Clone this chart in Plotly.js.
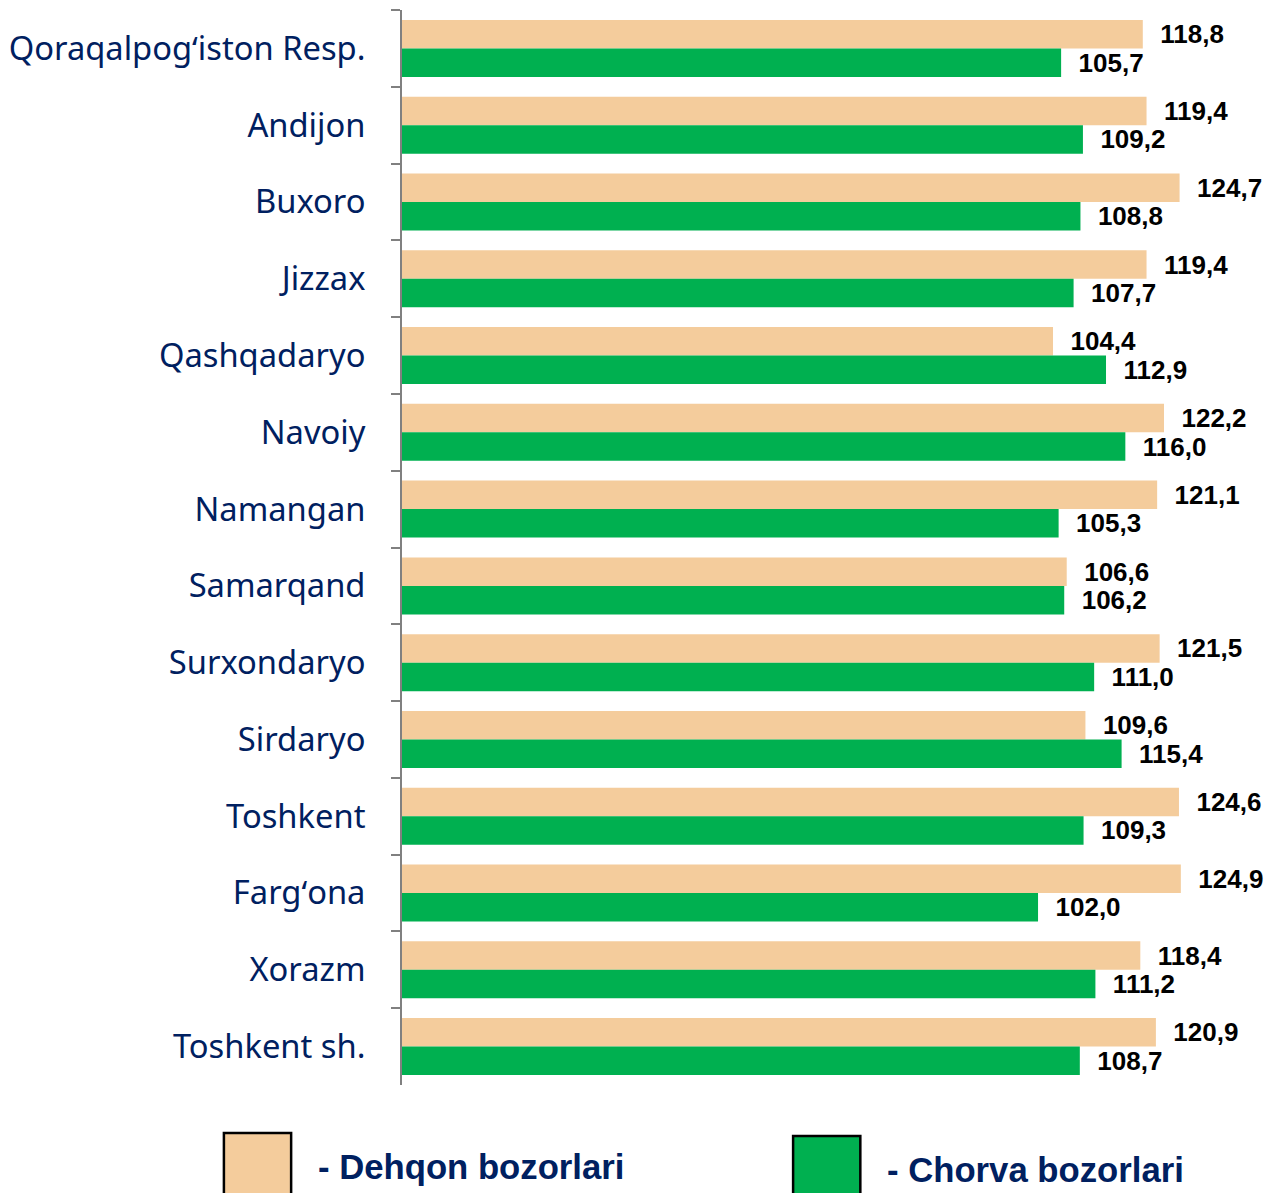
<!DOCTYPE html>
<html>
<head>
<meta charset="utf-8">
<script src="https://cdn.plot.ly/plotly-3.0.1.min.js"></script>
<style>
  html, body { margin: 0; padding: 0; background: #ffffff; }
  #chart { width: 1276px; height: 1193px; }
</style>
</head>
<body>
<div id="chart"></div>
<script>
// Regions (top to bottom)
const regions = [
    'Qoraqalpogʻiston Resp.', 'Andijon', 'Buxoro', 'Jizzax', 'Qashqadaryo',
    'Navoiy', 'Namangan', 'Samarqand', 'Surxondaryo', 'Sirdaryo',
    'Toshkent', 'Fargʻona', 'Xorazm', 'Toshkent sh.'
];
const seriesNames = ['Dehqon bozorlari', 'Chorva bozorlari'];
const dehqonValues = [118.8, 119.4, 124.7, 119.4, 104.4, 122.2, 121.1, 106.6, 121.5, 109.6, 124.6, 124.9, 118.4, 120.9];
const chorvaValues = [105.7, 109.2, 108.8, 107.7, 112.9, 116.0, 105.3, 106.2, 111.0, 115.4, 109.3, 102.0, 111.2, 108.7];

const colors = ['#F4CC9C', '#00B050'];
const navy = '#002060';

const makeTrace = (values, idx) => ({
    type: 'bar',
    orientation: 'h',
    name: seriesNames[idx],
    y: regions,
    x: values,
    marker: { color: colors[idx] },
    texttemplate: '\u00a0\u00a0%{x:.1f}',
    textposition: 'outside',
    constraintext: 'none',
    cliponaxis: false,
    textfont: { family: 'Arial', size: 26, color: '#000000', weight: 'bold' },
    hoverinfo: 'skip'
});

const traces = [makeTrace(dehqonValues, 0), makeTrace(chorvaValues, 1)];

// legend drawn by hand: large boxes with outline below the plot
const legendBoxes = [
    { x0: -0.204, x1: -0.127, y0: -0.0447, y1: -0.11 },
    { x0: 0.448, x1: 0.525, y0: -0.0475, y1: -0.11 }
];
const shapes = legendBoxes.map((b, i) => ({
    type: 'rect', xref: 'paper', yref: 'paper',
    x0: b.x0, x1: b.x1, y0: b.y0, y1: b.y1,
    fillcolor: colors[i], line: { color: '#000000', width: 2.5 }
}));

const annotations = [
    { x: -0.099, y: -0.076, text: '- ' + seriesNames[0] },
    { x: 0.553, y: -0.079, text: '- ' + seriesNames[1] }
].map(a => ({
    xref: 'paper', yref: 'paper', x: a.x, y: a.y,
    xanchor: 'left', yanchor: 'middle', showarrow: false, text: a.text,
    font: { family: 'Arial', size: 34.7, color: navy, weight: 'bold' }
}));

const layout = {
    width: 1276,
    height: 1193,
    margin: { l: 402, r: 1, t: 10, b: 108 },
    paper_bgcolor: '#ffffff',
    plot_bgcolor: '#ffffff',
    barmode: 'group',
    bargap: 0.258,
    bargroupgap: 0,
    showlegend: false,
    separators: ',.',
    xaxis: {
        range: [0, 140],
        visible: false,
        fixedrange: true
    },
    yaxis: {
        autorange: 'reversed',
        type: 'category',
        showline: true,
        linecolor: '#808080',
        linewidth: 2,
        ticks: 'outside',
        tickson: 'boundaries',
        ticklen: 9,
        tickwidth: 2,
        tickcolor: '#808080',
        ticklabelstandoff: 28,
        showgrid: false,
        tickfont: { family: 'Noto Sans', size: 32.7, color: navy },
        fixedrange: true
    },
    shapes: shapes,
    annotations: annotations
};

Plotly.newPlot('chart', traces, layout, { displayModeBar: false, staticPlot: true });
</script>
</body>
</html>
